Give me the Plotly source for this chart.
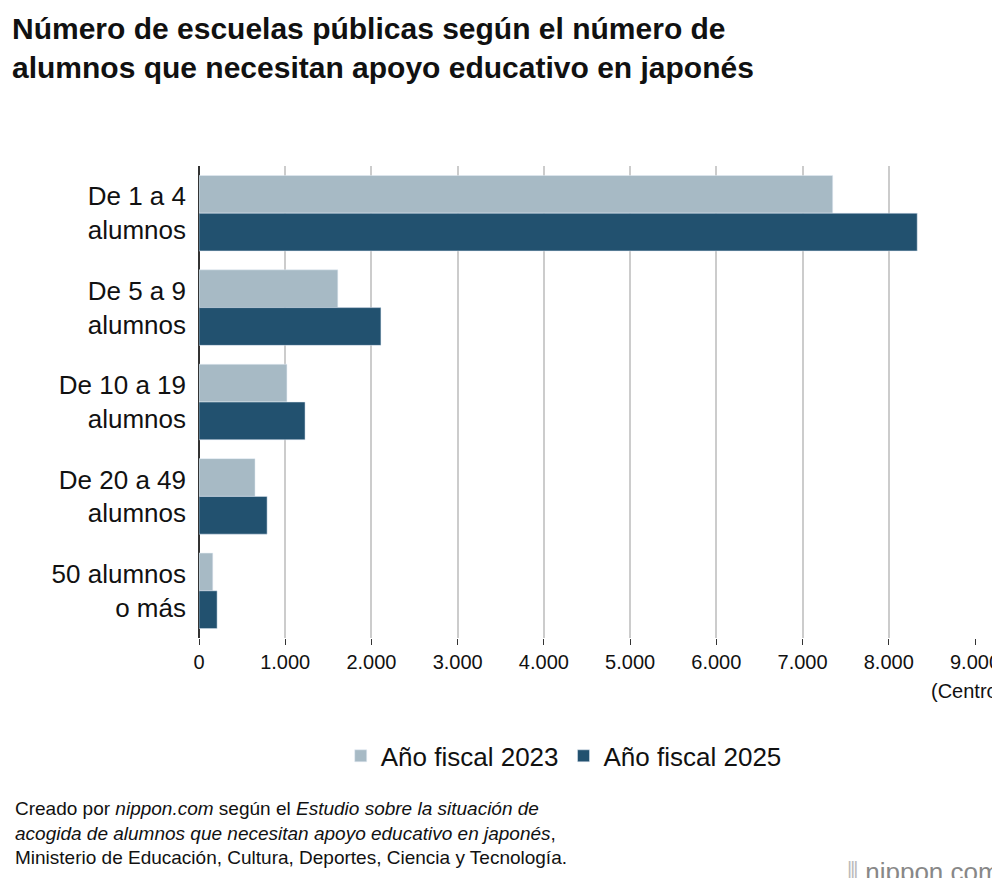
import plotly.graph_objects as go

categorias = ["De 1 a 4<br>alumnos", "De 5 a 9<br>alumnos", "De 10 a 19<br>alumnos",
              "De 20 a 49<br>alumnos", "50 alumnos<br>o más"]
valores_2023 = [7350, 1610, 1020, 650, 160]
valores_2025 = [8330, 2110, 1230, 790, 210]
ticks = [0, 1000, 2000, 3000, 4000, 5000, 6000, 7000, 8000, 9000]
tick_labels = ["0", "1.000", "2.000", "3.000", "4.000", "5.000", "6.000", "7.000", "8.000", "9.000"]

fig = go.Figure()
fig.add_trace(go.Bar(y=categorias, x=valores_2023, orientation="h", name="Año fiscal 2023",
                     marker_color="#a7bac5"))
fig.add_trace(go.Bar(y=categorias, x=valores_2025, orientation="h", name="Año fiscal 2025",
                     marker_color="#22516f"))

fig.update_layout(
    width=1000, height=878,
    paper_bgcolor="white", plot_bgcolor="white",
    font=dict(family="Liberation Sans, Arial", size=26, color="#111"),
    margin=dict(l=191, r=33, t=158, b=248),
    barmode="group", bargap=0.2, bargroupgap=0,
    legend=dict(orientation="h", x=0.47, xanchor="center", y=-0.2, yanchor="top",
                font=dict(size=26), traceorder="normal"),
    showlegend=True,
)
fig.update_yaxes(autorange="reversed", ticks="", ticklabelstandoff=12, showline=False,
                 automargin=False)
fig.update_xaxes(range=[0, 9000], tickvals=ticks, ticktext=tick_labels, showgrid=True,
                 gridcolor="#cccccc", gridwidth=2, zeroline=True, zerolinecolor="#333",
                 zerolinewidth=2, tickfont=dict(size=20), ticks="outside", ticklen=6,
                 tickcolor="#333", showline=False, automargin=False)

fig.add_annotation(text="<b>Número de escuelas públicas según el número de<br>alumnos que necesitan apoyo educativo en japonés</b>",
                   xref="paper", yref="paper", x=-0.243, y=1.33, xanchor="left", yanchor="top",
                   align="left", showarrow=False, font=dict(size=30, color="#111"))
fig.add_annotation(text="(Centro)", xref="paper", yref="paper", x=1.04, y=-0.085,
                   xanchor="right", yanchor="top", showarrow=False, font=dict(size=20))
fig.add_annotation(text="Creado por <i>nippon.com</i> según el <i>Estudio sobre la situación de<br>"
                        "acogida de alumnos que necesitan apoyo educativo en japonés</i>,<br>"
                        "Ministerio de Educación, Cultura, Deportes, Ciencia y Tecnología.",
                   xref="paper", yref="paper", x=-0.24, y=-0.335, xanchor="left", yanchor="top",
                   align="left", showarrow=False, font=dict(size=19))
fig.add_annotation(text="<span style='color:#bbb'>⦀</span> nippon<span style='color:#e60012'>.</span>com",
                   xref="paper", yref="paper", x=1.035, y=-0.46, xanchor="right", yanchor="top",
                   showarrow=False, font=dict(size=26, color="#888"))

fig.write_html("out.html")
